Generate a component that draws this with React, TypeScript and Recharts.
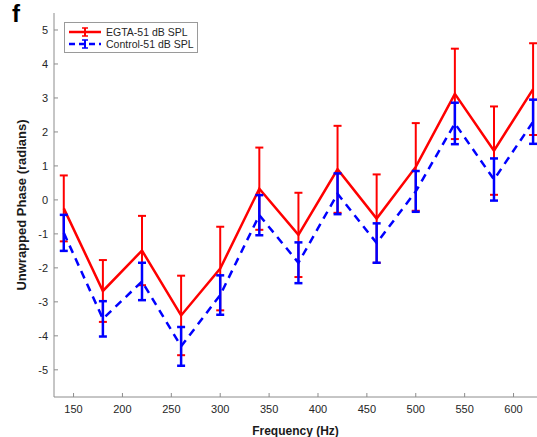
import React from 'react';
import { LineChart, Line, XAxis, YAxis, ErrorBar } from 'recharts';

const freqs = [140, 180, 220, 260, 300, 340, 380, 420, 460, 500, 540, 580, 620];
const egtaMean = [-0.25, -2.68, -1.49, -3.4, -2.02, 0.33, -1.03, 0.9, -0.55, 0.97, 3.12, 1.45, 3.26];
const egtaErr = [0.97, 0.91, 1.02, 1.17, 1.23, 1.21, 1.24, 1.28, 1.3, 1.29, 1.33, 1.3, 1.35];
const ctrlMean = [-0.97, -3.5, -2.4, -4.31, -2.8, -0.45, -1.85, 0.18, -1.27, 0.25, 2.25, 0.6, 2.3];
const ctrlErr = [0.53, 0.52, 0.55, 0.57, 0.58, 0.59, 0.6, 0.6, 0.58, 0.6, 0.61, 0.62, 0.65];

const xTicks = [150, 200, 250, 300, 350, 400, 450, 500, 550, 600];
const yTicks = [-5, -4, -3, -2, -1, 0, 1, 2, 3, 4, 5];

const data = freqs.map((f, i) => ({
  f,
  egta: egtaMean[i],
  egtaErr: egtaErr[i],
  ctrl: ctrlMean[i],
  ctrlErr: ctrlErr[i],
}));

const font = '"Liberation Sans", Arial, Helvetica, sans-serif';
const axisGray = '#8c8c8c';
const tickStyle = { fontSize: 11, fill: '#262626', fontFamily: font };

const legendItems = [
  { label: 'EGTA-51 dB SPL', color: '#ff0000', dash: undefined },
  { label: 'Control-51 dB SPL', color: '#0000ff', dash: '6 4' },
];

const LegendBox = () => (
  <div
    style={{
      position: 'absolute',
      left: 64,
      top: 22,
      border: '1px solid #9a9a9a',
      background: '#fff',
      width: 134,
      height: 31,
      boxSizing: 'border-box',
      fontFamily: font,
      fontSize: 10.5,
      color: '#262626',
      lineHeight: '12px',
      padding: '3px 0 0 3px',
      whiteSpace: 'nowrap',
    }}
  >
    {legendItems.map((it) => (
      <div key={it.label} style={{ display: 'flex', alignItems: 'center', height: 12 }}>
        <svg width={34} height={12} style={{ marginRight: 4, flexShrink: 0 }}>
          <line x1={1} y1={6} x2={33} y2={6} stroke={it.color} strokeWidth={2.5} strokeDasharray={it.dash} />
          <line x1={17} y1={2} x2={17} y2={10} stroke={it.color} strokeWidth={2} />
          <line x1={14} y1={2} x2={20} y2={2} stroke={it.color} strokeWidth={1.5} />
          <line x1={14} y1={10} x2={20} y2={10} stroke={it.color} strokeWidth={1.5} />
        </svg>
        <span>{it.label}</span>
      </div>
    ))}
  </div>
);

export default function App() {
  return (
    <div style={{ position: 'absolute', left: 0, top: 0, width: 537, height: 437, background: '#fff', overflow: 'hidden' }}>
      <div style={{ position: 'absolute', left: 12, top: 0, fontFamily: font, fontWeight: 'bold', fontSize: 24 }}>f</div>
      <LineChart width={537} height={437} data={data} margin={{ top: 13, right: 0, bottom: 0, left: 0 }}>
        <XAxis
          dataKey="f"
          type="number"
          domain={[130, 624]}
          ticks={xTicks}
          allowDataOverflow
          height={40}
          stroke={axisGray}
          tickSize={-4}
          tickMargin={12}
          tick={tickStyle}
          label={{
            value: 'Frequency (Hz)',
            position: 'insideBottom',
            offset: 2,
            style: { fontSize: 12, fontWeight: 'bold', fill: '#1a1a1a', fontFamily: font },
          }}
        />
        <YAxis
          type="number"
          domain={[-5.8, 5.5]}
          ticks={yTicks}
          allowDataOverflow
          width={54}
          stroke={axisGray}
          tickSize={-4}
          tickMargin={10}
          tick={tickStyle}
          label={{
            value: 'Unwrapped Phase (radians)',
            angle: -90,
            position: 'insideLeft',
            offset: 21,
            style: { fontSize: 13, fontWeight: 'bold', fill: '#1a1a1a', fontFamily: font, textAnchor: 'middle' },
          }}
        />
        <Line
          dataKey="egta"
          stroke="#ff0000"
          strokeWidth={2.5}
          dot={false}
          isAnimationActive={false}
        >
          <ErrorBar dataKey="egtaErr" direction="y" width={4} stroke="#ff0000" strokeWidth={2} />
        </Line>
        <Line
          dataKey="ctrl"
          stroke="#0000ff"
          strokeWidth={2.5}
          strokeDasharray="8 6"
          dot={false}
          isAnimationActive={false}
        >
          <ErrorBar dataKey="ctrlErr" direction="y" width={4} stroke="#0000ff" strokeWidth={2.5} />
        </Line>
      </LineChart>
      <LegendBox />
    </div>
  );
}
